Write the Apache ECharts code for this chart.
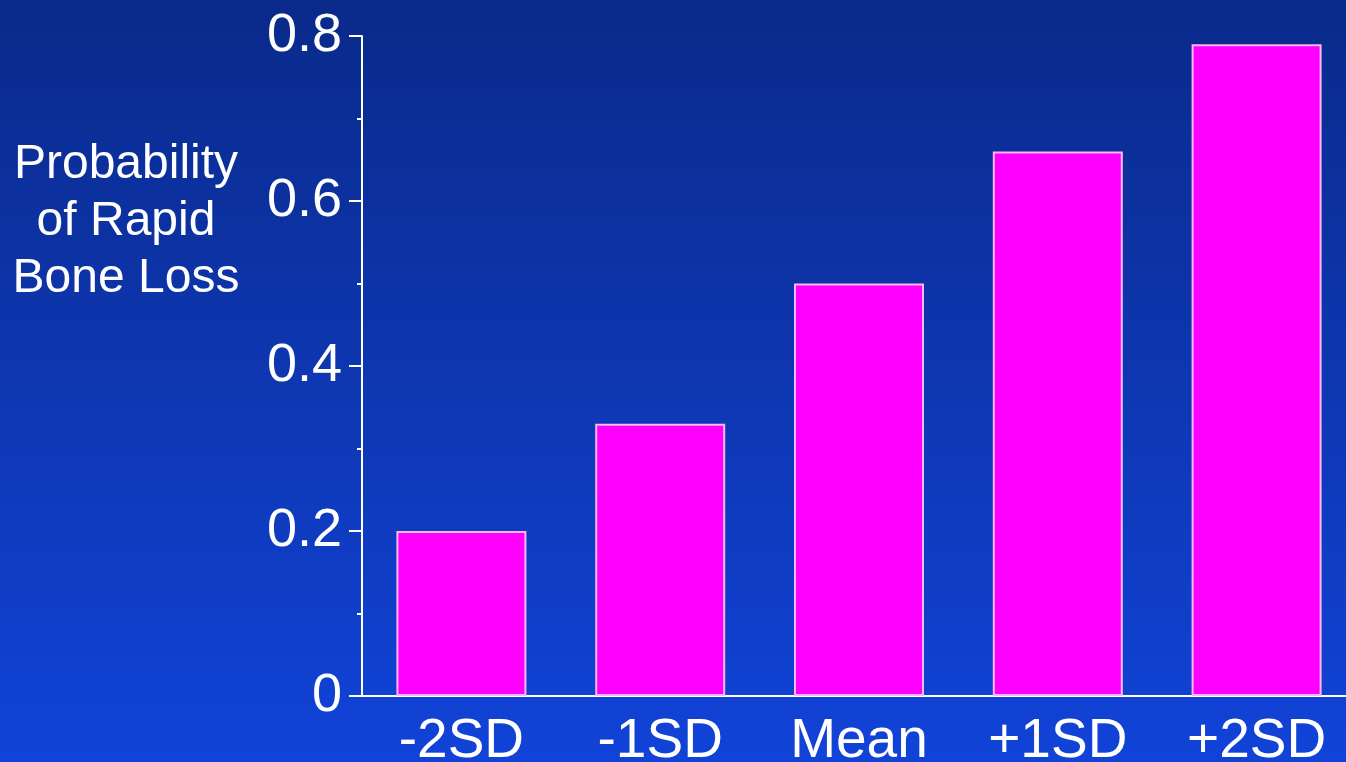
<!DOCTYPE html>
<html>
<head>
<meta charset="utf-8">
<script src="https://cdn.jsdelivr.net/npm/echarts@6/dist/echarts.min.js"></script>
<style>
html,body{margin:0;padding:0;background:#0b2a8c;}
#chart{width:1346px;height:762px;}
</style>
</head>
<body>
<div id="chart"></div>
<script>
const categories = ['-2SD', '-1SD', 'Mean', '+1SD', '+2SD'];
const probabilities = [0.2, 0.33, 0.5, 0.66, 0.79];
const yTicks = [0, 0.2, 0.4, 0.6, 0.8];
const yAxisTitle = 'Probability\nof Rapid\nBone Loss';

const font = '"Liberation Sans", Arial, sans-serif';
const chart = echarts.init(document.getElementById('chart'), null, {renderer: 'canvas'});
chart.setOption({
  animation: false,
  backgroundColor: new echarts.graphic.LinearGradient(0, 0, 0, 1, [
    {offset: 0, color: '#0a2a8a'},
    {offset: 1, color: '#1143d8'}
  ]),
  grid: {left: 362, top: 36, height: 660, width: 994, containLabel: false, outerBoundsMode: 'none'},
  xAxis: {
    type: 'category',
    data: categories,
    axisLine: {show: true, lineStyle: {color: '#ffffff', width: 2}},
    axisTick: {show: false},
    axisLabel: {color: '#ffffff', fontSize: 55, fontFamily: font, margin: 18}
  },
  yAxis: {
    type: 'value',
    min: yTicks[0],
    max: yTicks[yTicks.length - 1],
    interval: 0.2,
    axisLine: {show: true, lineStyle: {color: '#ffffff', width: 2}},
    axisTick: {show: true, length: 13, lineStyle: {color: '#ffffff', width: 2}},
    minorTick: {show: true, splitNumber: 2, length: 5, lineStyle: {color: '#ffffff', width: 2}},
    splitLine: {show: false},
    axisLabel: {
      color: '#ffffff', fontSize: 54, fontFamily: font, margin: 20,
      formatter: v => (v === 0 ? '0' : v.toFixed(1))
    }
  },
  graphic: [{
    type: 'text',
    x: 126,
    y: 136,
    style: {
      text: yAxisTitle,
      fill: '#ffffff',
      font: '48px ' + font,
      textAlign: 'center',
      textVerticalAlign: 'top',
      lineHeight: 57
    }
  }],
  series: [{
    type: 'bar',
    data: probabilities,
    barWidth: 130,
    itemStyle: {color: '#ff00ff', borderColor: '#f8b8f2', borderWidth: 2}
  }]
});
</script>
</body>
</html>
